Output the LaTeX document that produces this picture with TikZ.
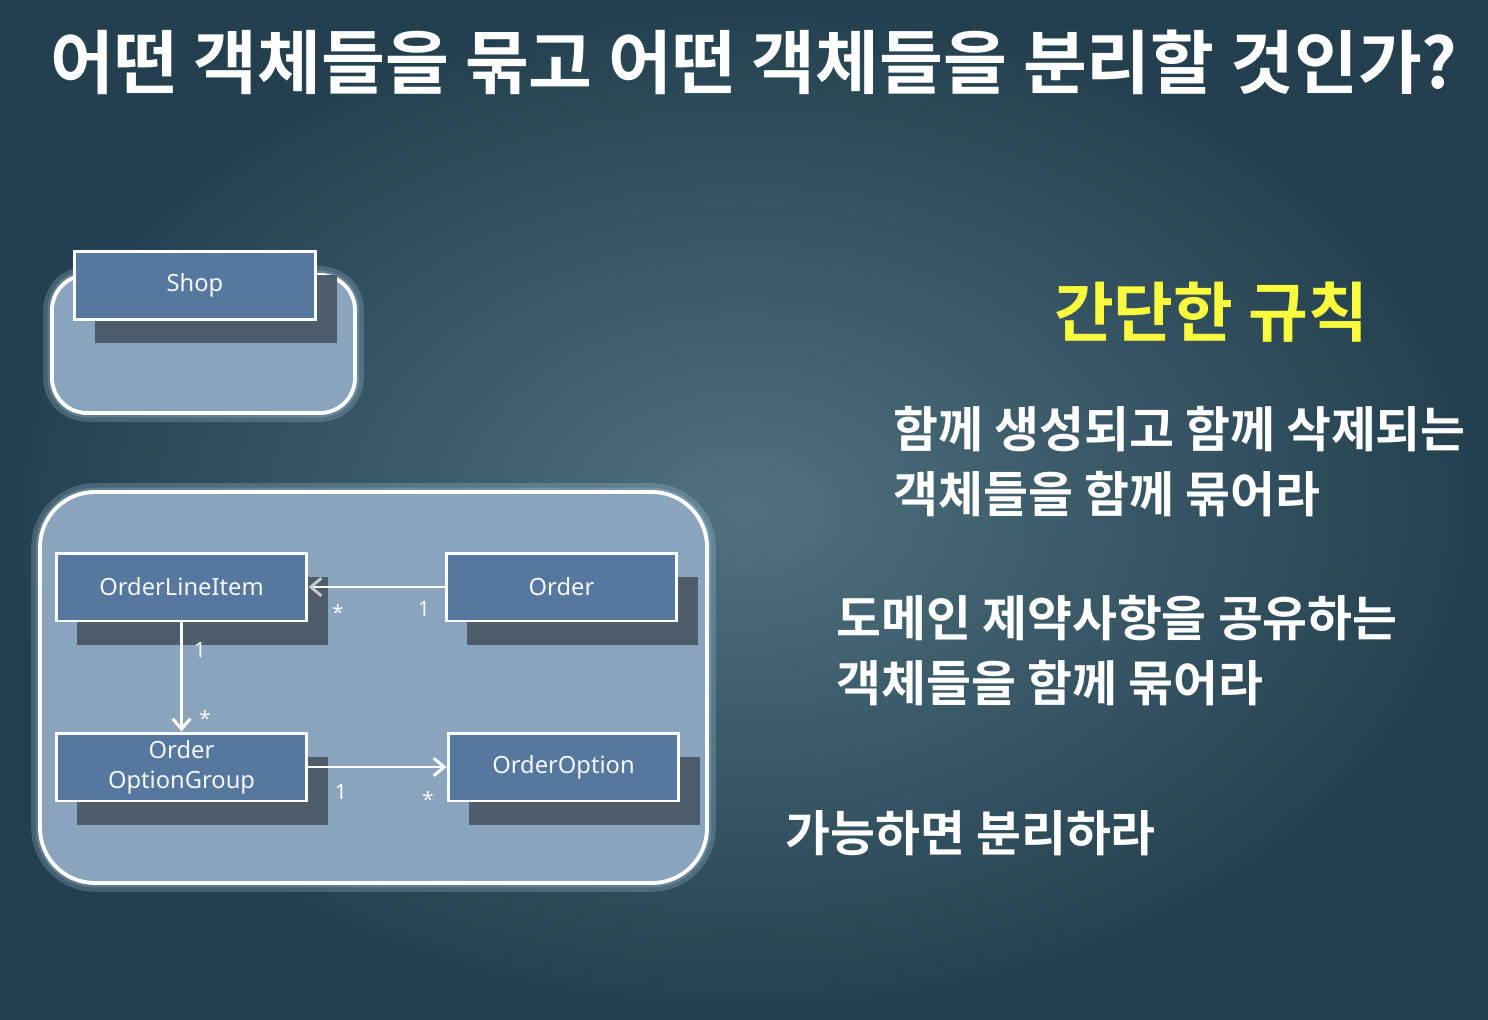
\documentclass[tikz,border=0pt]{standalone}
\usepackage{fontspec}
\setsansfont{Noto Sans}
\newfontfamily\kofont{Noto Sans CJK KR}[BoldFont={Noto Sans CJK KR Bold}]
\usetikzlibrary{positioning,arrows.meta,shadows}
\definecolor{cboard}{HTML}{34525F}
\definecolor{cboardin}{HTML}{50717E}
\definecolor{cboardout}{HTML}{24404E}
\definecolor{cgroup}{HTML}{8AA4BE}
\definecolor{cclass}{HTML}{56779E}
\definecolor{cshadow}{HTML}{4E5D6C}
\definecolor{cglow}{HTML}{B8D8F0}
\definecolor{cyellow}{HTML}{FBFB3E}
\definecolor{chead}{HTML}{C2C9D0}

\begin{document}
\begin{tikzpicture}[x=0.02cm, y=-0.02cm,
    group/.style={draw=white, line width=2.2pt, fill=cgroup},
    glow/.style={draw=cglow, line width=#1, opacity=0.22},
    cls/.style={draw=white, line width=1.7pt, fill=cclass, text=white!94!cclass,
      font=\sffamily\fontsize{13.5}{17}\selectfont, align=center, minimum height=1.36cm, inner sep=0pt,
      drop shadow={shadow xshift=0.42cm, shadow yshift=-0.48cm, fill=cshadow, opacity=1}},
    mult/.style={text=white!92!cgroup, font=\sffamily\fontsize{12}{14}\selectfont, inner sep=0pt},
    arr/.style={-{Straight Barb[length=6pt,width=10pt]}, line width=1.7pt, white},
    rule/.style={text=white, font=\kofont\bfseries\fontsize{27.8}{37}\selectfont, align=left, anchor=west, inner sep=0pt}
  ]
  % board
  \fill[cboard] (0,0) rectangle (1488,1020);
  \shade[inner color=cboardin, outer color=cboardout] (0,0) rectangle (1488,1020);
  \useasboundingbox (0,0) rectangle (1488,1020);

  \node[text=white, font=\kofont\bfseries\fontsize{39.5}{44}\selectfont] (title) at (754,62) {어떤 객체들을 묶고 어떤 객체들을 분리할 것인가?};

  % aggregates
  \draw[glow=10pt, rounded corners=0.7cm] (52,275) rectangle (355,413);
  \draw[glow=5pt, rounded corners=0.7cm] (52,275) rectangle (355,413);
  \draw[group, rounded corners=0.7cm] (52,275) rectangle (355,413);
  \draw[glow=10pt, rounded corners=1.1cm] (40,492) rectangle (707,883);
  \draw[glow=5pt, rounded corners=1.1cm] (40,492) rectangle (707,883);
  \draw[group, rounded corners=1.1cm] (40,492) rectangle (707,883);

  \node[cls, minimum width=4.84cm] (shop) at (195,285.5) {Shop};
  \node[cls, minimum width=5.02cm] (lineitem) at (181.5,587) {OrderLineItem};
  \node[cls, minimum width=4.62cm] (order) at (561.5,587) {Order};
  \node[cls, minimum width=5.02cm] (optgroup) at (181.5,767) {Order\\OptionGroup};
  \node[cls, minimum width=4.62cm] (option) at (563.5,767) {OrderOption};

  \draw[arr, -{Straight Barb[length=6pt,width=10pt,color=chead]}] (order.west) -- (lineitem.east);
  \draw[arr] (lineitem.south) -- (optgroup.north);
  \draw[arr] (optgroup.east) -- (option.west);

  \node[mult] (m1) at (338,612) {*};
  \node[mult] (m2) at (424,609) {1};
  \node[mult] (m3) at (200,650) {1};
  \node[mult] (m4) at (205,718) {*};
  \node[mult] (m5) at (341,792) {1};
  \node[mult] (m6) at (428,799) {*};

  % rules
  \node[text=cyellow, font=\kofont\bfseries\fontsize{37}{42}\selectfont] (ruletitle) at (1211,312) {간단한 규칙};
  \node[rule] (rule1) at (893,462) {함께 생성되고 함께 삭제되는\\객체들을 함께 묶어라};
  \node[rule] (rule2) at (836,651) {도메인 제약사항을 공유하는\\객체들을 함께 묶어라};
  \node[rule] (rule3) at (785,833) {가능하면 분리하라};
\end{tikzpicture}
\end{document}
